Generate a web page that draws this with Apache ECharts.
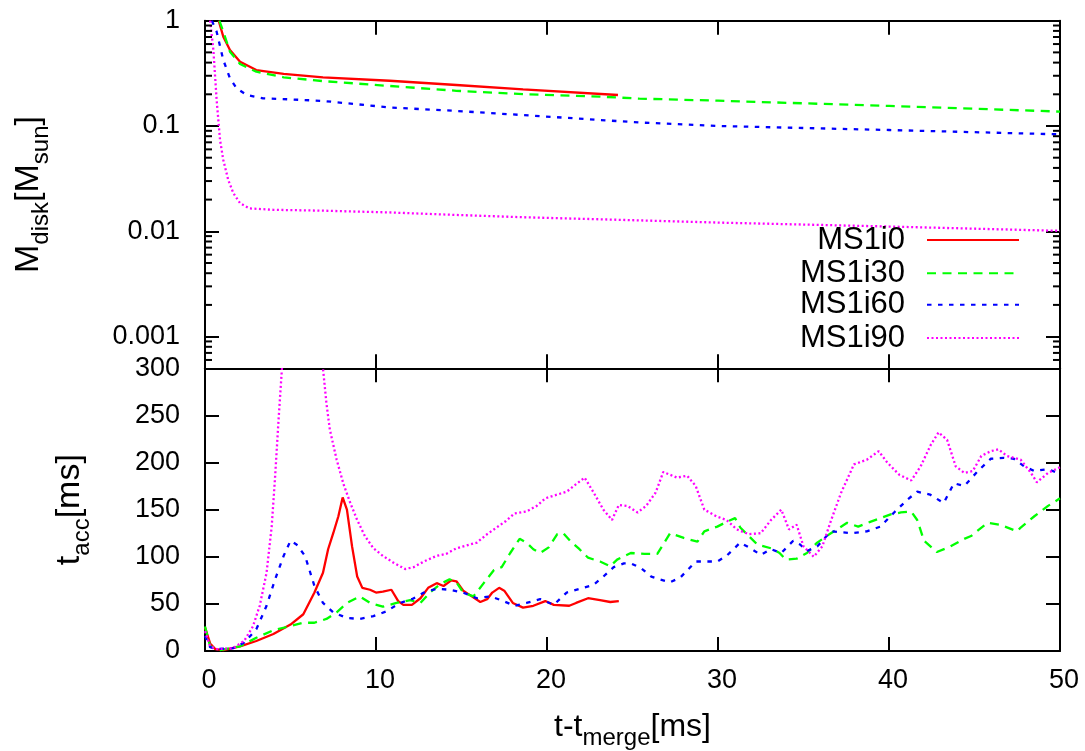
<!DOCTYPE html>
<html><head><meta charset="utf-8">
<script src="https://cdn.jsdelivr.net/npm/echarts@6.0.0/dist/echarts.min.js"></script>
<style>html,body{margin:0;padding:0;background:#fff}#c{width:1085px;height:751px}</style>
</head><body><div id="c"></div>
<script>
// ---------------- data ----------------
const SERIES_NAMES = ['MS1i0', 'MS1i30', 'MS1i60', 'MS1i90'];

// top panel: disk mass [Msun] vs t - t_merge [ms]
const MDISK_I0 = [[0.8,1.0],[1.07,0.705],[1.46,0.527],[2.05,0.408],[3.0,0.34],[4.6,0.312],[6.9,0.29],[10.8,0.269],[14.7,0.245],[18.6,0.223],[24.15,0.197]];
const MDISK_I30 = [[0.84,1.0],[1.07,0.787],[1.46,0.508],[2.05,0.388],[3.0,0.328],[4.6,0.29],[6.9,0.267],[10.8,0.24],[14.7,0.216],[18.6,0.201],[23.1,0.19],[25.4,0.182],[30,0.174],[40,0.155],[50,0.137]];
const MDISK_I60 = [[0.4,1.0],[0.68,0.787],[1.07,0.423],[1.46,0.284],[1.85,0.228],[2.44,0.197],[3.4,0.183],[5.0,0.179],[6.9,0.173],[10.8,0.15],[14.7,0.139],[18.6,0.127],[25.4,0.108],[30,0.1],[40,0.0916],[50,0.0833]];
const MDISK_I90 = [[0.3,1.0],[0.49,0.527],[0.68,0.177],[0.88,0.0736],[1.07,0.0475],[1.36,0.0307],[1.66,0.023],[2.05,0.0185],[2.6,0.0165],[4.0,0.016],[6.9,0.0157],[10.8,0.0151],[14.7,0.0143],[18.6,0.0136],[25.4,0.0127],[30,0.0121],[40,0.0111],[50,0.0101]];

// bottom panel: accretion time [ms] vs t - t_merge [ms]
const TACC_I0 = [[0,25],[0.3,8],[0.6,2],[1.07,1],[2.05,5],[3.0,10.6],[4.0,18],[5.0,28],[5.75,39],[6.4,62],[6.9,83],[7.2,108],[7.5,125],[7.8,143],[8.05,163],[8.3,150],[8.6,111],[8.9,79],[9.2,67],[9.65,65],[10.0,62],[10.4,63],[10.9,65],[11.3,53],[11.6,49],[12.1,49],[12.6,56],[13.05,67],[13.55,72],[13.95,69],[14.4,75],[14.7,74],[15.1,64],[15.6,58],[16.1,52],[16.5,55],[16.8,62],[17.2,67],[17.5,64],[18.0,51],[18.6,46],[19.2,48],[19.9,53],[20.4,49],[21.3,48],[21.7,51],[22.4,56],[23.1,54],[23.7,52],[24.2,53]];
const TACC_I30 = [[0,26],[0.3,5],[0.9,1],[2.05,5],[3.0,14],[4.0,22],[5.0,26.5],[5.75,30],[6.4,30],[7.1,34],[7.7,41],[8.3,51],[9.05,58],[9.65,51],[10.4,47],[11.2,51],[12.0,54],[12.6,51],[13.15,62],[13.75,71],[14.3,76],[14.7,73],[15.1,62],[15.7,58],[16.3,72],[16.9,86],[17.35,89],[17.85,104],[18.4,119],[18.8,115],[19.2,108],[19.6,104],[20.1,110],[20.6,124],[20.95,125],[21.35,117],[21.9,108],[22.4,99],[23.1,95],[23.7,90],[24.1,97],[24.9,104],[25.7,103],[26.45,103],[27.2,125],[28.0,120],[28.8,116],[29.2,127],[29.96,132],[30.5,137],[31.0,141],[31.3,131],[31.8,122],[32.3,113],[33.1,109],[33.6,104],[33.96,97],[34.6,98],[35.2,104],[35.8,115],[36.6,125],[37.55,136],[38.2,132],[38.9,137],[39.5,141],[40.1,145],[40.7,147],[41.3,148],[41.65,139],[42.05,117],[42.8,105],[43.6,111],[44.4,119],[44.8,122],[45.75,136],[46.5,134],[47.5,127],[47.7,131],[48.5,143],[49.3,154],[50,162]];
const TACC_I60 = [[0,16],[0.3,4],[0.7,2],[1.65,3],[2.3,9],[3.0,23],[3.6,48],[4.1,76],[4.6,101],[5.0,117],[5.35,113],[5.85,101],[6.4,69],[6.9,51],[7.5,41],[8.3,35],[9.05,34],[9.85,37],[10.6,42],[11.4,51],[12.1,55],[12.8,62],[13.55,66],[14.3,65],[15.1,62],[15.9,56],[16.7,58],[17.45,53],[18.1,48],[18.8,51],[19.6,55],[20.4,49],[21.15,62],[21.9,66],[22.7,70],[23.3,79],[23.9,89],[24.5,93],[24.9,93],[25.5,88],[26.1,79],[26.6,76],[27.2,73],[27.8,78],[28.7,95],[29.4,95],[29.96,95],[30.5,101],[31.3,115],[31.9,109],[32.5,102],[33.1,108],[33.7,104],[34.4,117],[34.8,113],[35.2,106],[35.8,111],[36.6,127],[37.8,125],[38.7,127],[39.5,132],[40.3,147],[41.1,161],[41.65,169],[42.4,166],[43.2,157],[43.8,178],[44.4,175],[45.2,191],[45.95,204],[46.7,205],[47.3,204],[47.9,196],[48.5,191],[49.3,193],[50,188]];
const TACC_I90 = [[0,21],[0.3,5],[0.7,2],[1.65,3],[2.3,11],[2.8,26],[3.2,48],[3.6,83],[3.9,132],[4.1,185],[4.3,245],[4.5,300],[4.8,380],[5.3,450],[5.9,460],[6.4,400],[6.7,340],[6.9,300],[7.1,263],[7.3,235],[7.7,203],[8.1,177],[8.5,157],[8.9,139],[9.35,122],[9.85,109],[10.4,101],[11.0,94],[11.7,87],[12.2,89],[12.8,95],[13.55,101],[14.1,103],[14.7,109],[15.3,112],[15.9,115],[16.5,124],[17.05,131],[17.6,138],[18.1,146],[18.8,148],[19.4,154],[19.9,162],[20.6,166],[21.15,169],[21.7,177],[22.2,184],[22.7,169],[23.3,150],[23.8,139],[24.2,155],[24.7,154],[25.3,147],[25.8,154],[26.35,168],[26.8,190],[27.6,184],[28.2,186],[28.7,175],[29.2,150],[29.9,143],[30.5,139],[31.1,129],[31.8,124],[32.5,125],[33.1,139],[33.7,150],[34.15,129],[34.6,134],[35.0,111],[35.6,100],[36.1,111],[36.6,138],[37.2,168],[37.95,198],[38.7,203],[39.4,212],[39.9,200],[40.6,187],[41.3,181],[41.85,196],[42.45,219],[42.9,232],[43.4,224],[43.9,196],[44.4,189],[44.9,191],[45.4,207],[45.95,212],[46.4,214],[46.9,207],[47.7,203],[48.3,189],[48.65,179],[49.3,189],[50,195]];

// axis ranges / ticks
const X_MIN = 0, X_MAX = 50, X_STEP = 10;
const MDISK_MIN = 0.0005, MDISK_MAX = 1;
const TACC_MIN = 0, TACC_MAX = 300, TACC_STEP = 50;
const LOG_MINOR_TICKS = [0.0006,0.0007,0.0008,0.0009,0.002,0.003,0.004,0.005,0.006,0.007,0.008,0.009,0.02,0.03,0.04,0.05,0.06,0.07,0.08,0.09,0.2,0.3,0.4,0.5,0.6,0.7,0.8,0.9];

// ---------------- styles / layout ----------------
const FONT = '"Liberation Sans", Arial, Helvetica, sans-serif';
const COLORS = ['#ff0000', '#00ff00', '#0000ff', '#ff00ff'];
const DASHES = ['solid', [9, 6.5], [4.5, 6.5], [2, 2.5]];
const LEGEND_TOPS = [224.5, 257.7, 289.3, 322.5];

const AX_LINE = { show: true, onZero: false, lineStyle: { color: '#000', width: 2 } };
const AX_TICK = { show: true, inside: true, length: 14, lineStyle: { color: '#000', width: 2 } };
const NO_SPLIT = { show: false };

function xAx(grid, pos, withLabels) {
  return {
    gridIndex: grid, type: 'value', position: pos, min: X_MIN, max: X_MAX, interval: X_STEP,
    axisLine: AX_LINE, axisTick: AX_TICK, splitLine: NO_SPLIT,
    axisLabel: { show: !!withLabels, fontSize: 27, fontFamily: FONT, color: '#000', margin: 16, padding: [0, 0, 0, 8] }
  };
}

const titleRich = (main, sub) => ({
  m: { fontSize: main, lineHeight: main + 2, fontFamily: FONT, color: '#000', verticalAlign: 'bottom', padding: [0, 0, 7, 0] },
  s: { fontSize: sub, lineHeight: sub, fontFamily: FONT, color: '#000', verticalAlign: 'bottom' }
});

const xAxes = [
  xAx(0, 'bottom', false),
  xAx(0, 'top', false),
  Object.assign(xAx(1, 'bottom', true), {
    name: '{m|t-t}{s|merge}{m|[ms]}', nameLocation: 'middle', nameGap: 65,
    nameTextStyle: { rich: titleRich(32, 24) }
  }),
  xAx(1, 'top', false)
];

const logFmt = v => String(+Number(v).toPrecision(6));

const yAxes = [
  {
    gridIndex: 0, type: 'log', logBase: 10, position: 'left', min: MDISK_MIN, max: MDISK_MAX,
    axisLine: AX_LINE, axisTick: AX_TICK, splitLine: NO_SPLIT, minorTick: { show: false },
    axisLabel: { fontSize: 27, fontFamily: FONT, color: '#000', margin: 25, showMinLabel: false, formatter: logFmt },
    name: '{m|M}{s|disk}{m|[M}{s|sun}{m|]}', nameLocation: 'middle', nameRotate: 90, nameGap: 152,
    nameTextStyle: { rich: titleRich(34, 24) }
  },
  {
    gridIndex: 0, type: 'log', logBase: 10, position: 'right', min: MDISK_MIN, max: MDISK_MAX,
    axisLine: AX_LINE, axisTick: AX_TICK, splitLine: NO_SPLIT, axisLabel: { show: false }
  },
  {
    gridIndex: 1, type: 'value', position: 'left', min: TACC_MIN, max: TACC_MAX, interval: TACC_STEP,
    axisLine: AX_LINE, axisTick: AX_TICK, splitLine: NO_SPLIT,
    axisLabel: { fontSize: 27, fontFamily: FONT, color: '#000', margin: 25 },
    name: '{m|t}{s|acc}{m|[ms]}', nameLocation: 'middle', nameRotate: 90, nameGap: 111,
    nameTextStyle: { rich: titleRich(34, 24) }
  },
  {
    gridIndex: 1, type: 'value', position: 'right', min: TACC_MIN, max: TACC_MAX, interval: TACC_STEP,
    axisLine: AX_LINE, axisTick: AX_TICK, splitLine: NO_SPLIT, axisLabel: { show: false }
  }
];

function lineSeries(i, data, xi, yi) {
  return {
    type: 'line', name: SERIES_NAMES[i], data: data, xAxisIndex: xi, yAxisIndex: yi,
    symbol: 'none', showSymbol: false, clip: true, smooth: false, silent: true,
    lineStyle: { color: COLORS[i], width: 2.3, type: DASHES[i] },
    itemStyle: { color: COLORS[i] }
  };
}

const topData = [MDISK_I0, MDISK_I30, MDISK_I60, MDISK_I90];
const botData = [TACC_I0, TACC_I30, TACC_I60, TACC_I90];

const series = [];
// minor ticks of the log axis (both sides), placed via the axis scale
series.push({
  type: 'custom', xAxisIndex: 0, yAxisIndex: 0, silent: true, clip: false, z: 5,
  data: LOG_MINOR_TICKS.map(v => [X_MIN, v]),
  renderItem: function (params, api) {
    const v = api.value(1);
    const p = api.coord([X_MIN, v]);
    const q = api.coord([X_MAX, v]);
    return {
      type: 'group', children: [
        { type: 'line', shape: { x1: p[0], y1: p[1], x2: p[0] + 7, y2: p[1] }, style: { stroke: '#000', lineWidth: 2 } },
        { type: 'line', shape: { x1: q[0] - 7, y1: q[1], x2: q[0], y2: q[1] }, style: { stroke: '#000', lineWidth: 2 } }
      ]
    };
  }
});
topData.forEach((d, i) => series.push(lineSeries(i, d, 0, 0)));
botData.forEach((d, i) => series.push(lineSeries(i, d, 2, 2)));

const legends = SERIES_NAMES.map((n, i) => ({
  data: [n], orient: 'vertical', right: 65, top: LEGEND_TOPS[i], align: 'right',
  itemWidth: 92, itemHeight: 14, padding: 0, selectedMode: false,
  itemStyle: { opacity: 0, borderWidth: 0 },
  textStyle: { fontSize: 31, fontFamily: FONT, color: '#000', lineHeight: 30, padding: [0, 17, 0, 0] }
}));

const option = {
  animation: false,
  backgroundColor: '#fff',
  grid: [
    { left: 205, right: 25, top: 20.7, height: 347.6 },
    { left: 205, right: 25, top: 368.3, bottom: 99.3 }
  ],
  legend: legends,
  xAxis: xAxes,
  yAxis: yAxes,
  series: series
};

const chart = echarts.init(document.getElementById('c'), null, { renderer: 'canvas' });
chart.setOption(option);
</script>
</body></html>
